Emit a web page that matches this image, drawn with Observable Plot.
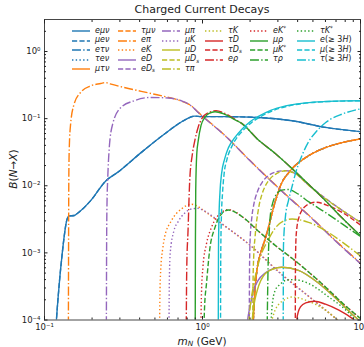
<!DOCTYPE html>
<html><head><meta charset="utf-8">
<script src="https://cdn.jsdelivr.net/npm/d3@7"></script>
<script src="https://cdn.jsdelivr.net/npm/@observablehq/plot@0.6"></script>
<style>
body{margin:0;background:#fff;}
#wrap{position:relative;width:364px;height:347px;font-family:"DejaVu Sans",sans-serif;overflow:hidden;color:#222;}
#wrap svg{position:absolute;left:0;top:0;}
.abs{position:absolute;white-space:nowrap;line-height:1;}
.leg{position:absolute;white-space:nowrap;font-size:8px;line-height:8px;height:8px;}
.leg i{font-style:italic;}
.leg sub,.leg sup{font-size:0.7em;line-height:0;position:relative;vertical-align:baseline;}
.leg sub{top:0.3em;} .leg sup{top:-0.45em;}
</style></head><body><div id="wrap"></div>
<script>
// ---- data: [m_N (GeV), branching ratio] ----
const eMuNu = [[0.117,5e-5],[0.119,1e-4],[0.122,2.2e-4],[0.125,4.3e-4],[0.129,9e-4],[0.133,1.7e-3],[0.138,3.0e-3],[0.143,3.55e-3],[0.154,3.6e-3],[0.162,3.9e-3],[0.196,6.0e-3],[0.245,0.0119],[0.29,0.0158],[0.41,0.0314],[0.575,0.059],[0.77,0.095],[0.89,0.109],[0.99,0.107],[1.39,0.107],[2.26,0.104],[3.69,0.093],[6.0,0.074],[10,0.064]];
const muENu = [[0.117,5e-5],[0.119,1e-4],[0.122,2.2e-4],[0.125,4.3e-4],[0.129,9e-4],[0.133,1.7e-3],[0.138,3.0e-3],[0.143,3.55e-3],[0.154,3.6e-3],[0.162,3.9e-3],[0.196,6.0e-3],[0.245,0.0119],[0.29,0.0158],[0.41,0.0314],[0.575,0.059],[0.77,0.095],[0.89,0.109],[0.99,0.107],[1.39,0.107],[2.26,0.104],[3.69,0.093],[6.0,0.074],[10,0.064]];
const eTauNu = [[2.08,5e-5],[2.1,1e-4],[2.2,5e-4],[2.35,1.05e-3],[2.49,1.6e-3],[2.6,2.3e-3],[2.88,5.7e-3],[3.17,0.011],[3.5,0.0155],[3.69,0.018],[4.69,0.028],[6.0,0.037],[7.66,0.044],[10,0.05]];
const tauENu = [[2.08,5e-5],[2.1,1e-4],[2.2,5e-4],[2.35,1.05e-3],[2.49,1.6e-3],[2.6,2.3e-3],[2.88,5.7e-3],[3.17,0.011],[3.5,0.0155],[3.69,0.018],[4.69,0.028],[6.0,0.037],[7.66,0.044],[10,0.05]];
const muTauNu = [[2.08,5e-5],[2.1,1e-4],[2.2,5e-4],[2.35,1.05e-3],[2.49,1.6e-3],[2.6,2.3e-3],[2.88,5.7e-3],[3.17,0.011],[3.5,0.0155],[3.69,0.018],[4.69,0.028],[6.0,0.037],[7.66,0.044],[10,0.05]];
const tauMuNu = [[2.08,5e-5],[2.1,1e-4],[2.2,5e-4],[2.35,1.05e-3],[2.49,1.6e-3],[2.6,2.3e-3],[2.88,5.7e-3],[3.17,0.011],[3.5,0.0155],[3.69,0.018],[4.69,0.028],[6.0,0.037],[7.66,0.044],[10,0.05]];
const ePi = [[0.1416,5e-5],[0.142,1e-3],[0.1425,0.012],[0.1435,0.037],[0.1463,0.083],[0.154,0.165],[0.169,0.245],[0.196,0.308],[0.227,0.334],[0.243,0.345],[0.26,0.33],[0.32,0.291],[0.473,0.237],[0.62,0.205],[0.734,0.183],[0.85,0.155],[0.94,0.124],[1.0,0.109],[1.39,0.056],[2.0,0.0237],[3.0,9.5e-3],[5.0,3.2e-3],[7.0,1.5e-3],[10,7e-4]];
const eK = [[0.534,5e-5],[0.538,2.5e-4],[0.545,6e-4],[0.56,1.15e-3],[0.575,1.7e-3],[0.635,3.0e-3],[0.734,4.5e-3],[0.85,5.3e-3],[0.95,4.8e-3],[1.0,4.4e-3],[1.39,2.5e-3],[2.0,1.3e-3],[3.0,5.4e-4],[5.0,2.0e-4],[7.0,1.05e-4],[8.5,7e-5]];
const eD = [[1.875,5e-5],[1.93,1e-4],[2.0,1.6e-4],[2.1,2.7e-4],[2.25,3.9e-4],[2.49,5.0e-4],[2.8,5.8e-4],[3.17,6.1e-4],[4.05,5.5e-4],[5.46,3.5e-4],[7.3,1.9e-4],[9.3,1.1e-4],[10,9.5e-5]];
const eDs = [[1.975,5e-5],[1.985,6e-4],[2.0,1.5e-3],[2.05,3.3e-3],[2.12,5.5e-3],[2.22,8e-3],[2.4,0.0115],[2.65,0.0145],[2.95,0.0162],[3.36,0.0168],[3.87,0.0152],[4.69,0.0103],[6.0,6.5e-3],[7.66,4.3e-3],[10,2.85e-3]];
const muPi = [[0.2462,5e-5],[0.2475,2e-3],[0.249,0.0065],[0.251,0.0119],[0.257,0.037],[0.27,0.083],[0.305,0.147],[0.37,0.185],[0.473,0.207],[0.605,0.203],[0.734,0.185],[0.85,0.155],[0.94,0.123],[1.0,0.108],[1.39,0.0555],[2.0,0.0235],[3.0,9.4e-3],[5.0,3.15e-3],[7.0,1.48e-3],[10,6.9e-4]];
const muK = [[0.613,5e-5],[0.617,4e-4],[0.625,1.0e-3],[0.66,2.15e-3],[0.7,2.9e-3],[0.77,3.9e-3],[0.85,4.5e-3],[0.94,4.6e-3],[1.0,4.35e-3],[1.39,2.5e-3],[2.0,1.3e-3],[3.0,5.3e-4],[5.0,2.0e-4],[7.0,1.04e-4],[8.5,7e-5]];
const muD = [[1.98,5e-5],[2.06,1e-4],[2.12,1.7e-4],[2.22,2.75e-4],[2.49,4.9e-4],[2.8,5.75e-4],[3.17,6.1e-4],[4.05,5.5e-4],[5.46,3.5e-4],[7.3,1.9e-4],[9.3,1.1e-4],[10,9.5e-5]];
const muDs = [[2.075,5e-5],[2.09,4e-4],[2.11,9e-4],[2.15,1.7e-3],[2.26,4.5e-3],[2.38,7.5e-3],[2.49,0.0098],[2.7,0.013],[2.89,0.0148],[3.36,0.0167],[3.87,0.0151],[4.69,0.0102],[6.0,6.4e-3],[7.66,4.3e-3],[10,2.85e-3]];
const tauPi = [[1.93,5e-5],[2.0,1.5e-4],[2.1,3.2e-4],[2.3,8e-4],[2.62,1.6e-3],[2.89,2.35e-3],[3.27,3.0e-3],[3.7,3.2e-3],[4.69,2.85e-3],[6.3,2.0e-3],[7.66,1.45e-3],[10,9e-4]];
const tauK = [[2.55,5e-5],[2.75,1e-4],[2.88,1.4e-4],[3.03,1.7e-4],[3.3,2.0e-4],[3.69,2.2e-4],[4.69,1.9e-4],[6.0,1.4e-4],[7.0,1.05e-4],[8,8e-5]];
const tauD = [[3.89,5e-5],[3.95,1e-4],[4.05,1.35e-4],[4.18,1.58e-4],[4.5,1.8e-4],[5.1,1.9e-4],[6.0,1.72e-4],[7.3,1.4e-4],[8.9,1.05e-4],[10,8.5e-5]];
const tauDs = [[3.865,5e-5],[3.875,6e-4],[3.9,1.5e-3],[3.96,2.4e-3],[4.05,3.2e-3],[4.5,5.0e-3],[5.2,5.7e-3],[6.3,5.0e-3],[7.66,4.0e-3],[10,2.6e-3]];
const eRho = [[0.788,5e-5],[0.795,6e-4],[0.81,2.15e-3],[0.83,0.012],[0.86,0.028],[0.894,0.047],[0.94,0.075],[0.99,0.1],[1.1,0.124],[1.22,0.131],[1.35,0.123],[1.61,0.097],[1.77,0.085],[2.26,0.048],[2.9,0.03],[3.69,0.018],[4.69,0.0105],[6.0,6.0e-3],[7.66,3.3e-3],[10,1.8e-3]];
const eKstar = [[0.975,5e-5],[0.985,2.5e-4],[1.006,6.1e-4],[1.06,1.37e-3],[1.14,2.4e-3],[1.32,4.0e-3],[1.46,4.4e-3],[1.8,3.4e-3],[2.26,2.1e-3],[2.55,1.65e-3],[3.0,1.2e-3],[3.69,8.3e-4],[4.69,5.2e-4],[6.0,3.1e-4],[7.66,1.8e-4],[10,1.05e-4]];
const muRho = [[0.899,5e-5],[0.902,1.5e-3],[0.906,8.6e-3],[0.92,0.03],[0.94,0.047],[0.98,0.08],[1.034,0.104],[1.1,0.12],[1.2,0.127],[1.35,0.119],[1.61,0.096],[1.77,0.085],[2.26,0.048],[2.9,0.03],[3.69,0.018],[4.69,0.0105],[6.0,6.0e-3],[7.66,3.3e-3],[10,1.8e-3]];
const muKstar = [[1.015,5e-5],[1.03,1.5e-4],[1.06,3.5e-4],[1.11,1.1e-3],[1.2,2.4e-3],[1.32,3.8e-3],[1.46,4.35e-3],[1.8,3.4e-3],[2.26,2.1e-3],[2.55,1.65e-3],[3.0,1.2e-3],[3.69,8.3e-4],[4.69,5.2e-4],[6.0,3.1e-4],[7.66,1.8e-4],[10,1.05e-4]];
const tauRho = [[2.56,5e-5],[2.6,6e-4],[2.63,1.5e-3],[2.68,3.4e-3],[2.78,5.5e-3],[2.9,7.1e-3],[3.17,8.6e-3],[3.5,8.8e-3],[4.0,7.6e-3],[4.69,5.8e-3],[6.0,4.0e-3],[7.66,2.7e-3],[10,1.75e-3]];
const tauKstar = [[2.68,5e-5],[2.75,1.5e-4],[2.88,2.75e-4],[3.1,3.4e-4],[3.36,3.9e-4],[3.79,4.0e-4],[4.69,3.5e-4],[6.3,2.2e-4],[8.1,1.4e-4],[9.3,1.0e-4],[10,8.5e-5]];
const e3H = [[1.258,5e-5],[1.262,1e-3],[1.27,3e-3],[1.29,8e-3],[1.32,0.015],[1.38,0.025],[1.46,0.037],[1.6,0.052],[1.77,0.069],[2.0,0.09],[2.26,0.108],[2.7,0.133],[3.36,0.155],[4.5,0.172],[6.0,0.18],[8,0.184],[10,0.185]];
const mu3H = [[1.3,5e-5],[1.305,1e-3],[1.315,3e-3],[1.34,8e-3],[1.37,0.015],[1.43,0.025],[1.52,0.037],[1.65,0.052],[1.82,0.068],[2.05,0.088],[2.3,0.105],[2.75,0.13],[3.4,0.152],[4.5,0.17],[6.0,0.179],[8,0.183],[10,0.185]];
const tau3H = [[3.24,5e-5],[3.255,1.3e-3],[3.35,3.5e-3],[3.5,6e-3],[3.7,0.01],[3.9,0.016],[4.2,0.026],[4.69,0.045],[5.3,0.066],[6.0,0.087],[7.66,0.117],[10,0.14]];

const seriesData = [eMuNu, muENu, eTauNu, tauENu, muTauNu, tauMuNu, ePi, eK, eD, eDs, muPi, muK, muD, muDs, tauPi, tauK, tauD, tauDs, eRho, eKstar, muRho, muKstar, tauRho, tauKstar, e3H, mu3H, tau3H];
const seriesLabels = [
 "<i>eμν</i>","<i>μeν</i>","<i>eτν</i>","<i>τeν</i>","<i>μτν</i>",
 "<i>τμν</i>","<i>eπ</i>","<i>eK</i>","<i>eD</i>","<i>eD</i><sub><i>s</i></sub>",
 "<i>μπ</i>","<i>μK</i>","<i>μD</i>","<i>μD</i><sub><i>s</i></sub>","<i>τπ</i>",
 "<i>τK</i>","<i>τD</i>","<i>τD</i><sub><i>s</i></sub>","<i>eρ</i>",
 "<i>eK</i><sup>*</sup>","<i>μρ</i>","<i>μK</i><sup>*</sup>","<i>τρ</i>",
 "<i>τK</i><sup>*</sup>","<i>e</i>(≥ 3<i>H</i>)","<i>μ</i>(≥ 3<i>H</i>)","<i>τ</i>(≥ 3<i>H</i>)"
];
const seriesColors = ["#1f77b4","#1f77b4","#1f77b4","#1f77b4","#ff7f0e","#ff7f0e","#ff7f0e","#ff7f0e","#9467bd","#9467bd","#9467bd","#9467bd","#bcbd22","#bcbd22","#bcbd22","#bcbd22","#d62728","#d62728","#d62728","#d62728","#2ca02c","#2ca02c","#2ca02c","#2ca02c","#17becf","#17becf","#17becf"];
const styleCycle = ["solid","dashed","dashdot","dotted"];
const xMajor = [0.1, 1, 10];
const xMinor = [0.2,0.3,0.4,0.5,0.6,0.7,0.8,0.9,2,3,4,5,6,7,8,9];
const yMajor = [1e-4, 1e-3, 1e-2, 1e-1, 1];
const yMinor = [2e-4,3e-4,4e-4,5e-4,6e-4,7e-4,8e-4,9e-4,2e-3,3e-3,4e-3,5e-3,6e-3,7e-3,8e-3,9e-3,2e-2,3e-2,4e-2,5e-2,6e-2,7e-2,8e-2,9e-2,0.2,0.3,0.4,0.5,0.6,0.7,0.8,0.9,2];

// ---- styling ----
const LW = 1.4;
const dashOf = s => ({solid: null, dashed: `${3.7*LW},${1.6*LW}`, dashdot: `${6.4*LW},${1.6*LW},${1*LW},${1.6*LW}`, dotted: `${1*LW},${1.65*LW}`})[s];
const supMap = {"-":"⁻","0":"⁰","1":"¹","2":"²","3":"³","4":"⁴"};
const pow10 = d => "10" + String(Math.round(Math.log10(d))).split("").map(c => supMap[c]).join("");
const blank = () => "";

const lineMarks = seriesData.map((arr, i) => Plot.line(arr, {
  x: d => d[0], y: d => d[1], stroke: seriesColors[i], strokeWidth: LW,
  strokeDasharray: dashOf(styleCycle[i % 4]), strokeLinecap: "butt", curve: "monotone-x", clip: true
}));

const axisCommon = {label: null, stroke: "#222"};
const chart = Plot.plot({
  width: 364, height: 347,
  marginLeft: 44, marginRight: 4, marginTop: 19, marginBottom: 27.5,
  style: {fontFamily: "DejaVu Sans", fontSize: "8.5px", color: "#222", background: "transparent", overflow: "visible"},
  x: {type: "log", domain: [0.1, 10]},
  y: {type: "log", domain: [1e-4, 3]},
  marks: [
    ...lineMarks,
    Plot.frame({stroke: "#333", strokeWidth: 0.9}),
    Plot.axisX({...axisCommon, anchor: "bottom", ticks: xMajor, tickSize: -3.5, tickPadding: 7, tickFormat: pow10}),
    Plot.axisX({...axisCommon, anchor: "bottom", ticks: xMinor, tickSize: -2, tickFormat: blank}),
    Plot.axisX({...axisCommon, anchor: "top", ticks: xMajor, tickSize: -3.5, tickFormat: blank}),
    Plot.axisX({...axisCommon, anchor: "top", ticks: xMinor, tickSize: -2, tickFormat: blank}),
    Plot.axisY({...axisCommon, anchor: "left", ticks: yMajor, tickSize: -3.5, tickPadding: 7.5, tickFormat: pow10}),
    Plot.axisY({...axisCommon, anchor: "left", ticks: yMinor, tickSize: -2, tickFormat: blank}),
    Plot.axisY({...axisCommon, anchor: "right", ticks: yMajor, tickSize: -3.5, tickFormat: blank}),
    Plot.axisY({...axisCommon, anchor: "right", ticks: yMinor, tickSize: -2, tickFormat: blank})
  ]
});

const wrap = document.getElementById("wrap");
wrap.appendChild(chart);

// ---- title and axis labels ----
function addText(html, css) {
  const d = document.createElement("div");
  d.className = "abs"; d.innerHTML = html; Object.assign(d.style, css); wrap.appendChild(d);
  return d;
}
addText("Charged Current Decays", {left: "44px", width: "316px", textAlign: "center", top: "4px", fontSize: "11px"});
addText('<i>m</i><sub style="font-size:0.7em;line-height:0;position:relative;top:0.2em;vertical-align:baseline"><i>N</i></sub> (GeV)', {left: "44px", width: "316px", textAlign: "center", top: "335.5px", fontSize: "10.5px"});
addText("<i>B</i>(<i>N</i>→<i>X</i>)", {left: "13px", top: "169px", fontSize: "10.5px", transform: "translate(-50%,-50%) rotate(-90deg)"});

// ---- legend ----
const colStarts = [72, 118, 162, 205, 250, 297];
const colSizes = [5, 5, 5, 4, 4, 4];
const rowY = [31, 40.5, 50, 59.5, 69];
let idx = 0;
colSizes.forEach((n, c) => {
  for (let r = 0; r < n; r++, idx++) {
    const i = idx;
    const y = rowY[r];
    const svg = d3.create("svg").attr("width", 20).attr("height", 6)
      .style("position", "absolute").style("left", colStarts[c] + "px").style("top", (y - 3) + "px");
    svg.append("line").attr("x1", 0).attr("x2", 18).attr("y1", 3).attr("y2", 3)
      .attr("stroke", seriesColors[i]).attr("stroke-width", LW)
      .attr("stroke-dasharray", dashOf(styleCycle[i % 4])).attr("stroke-linecap", "butt");
    wrap.appendChild(svg.node());
    const t = document.createElement("div");
    t.className = "leg"; t.innerHTML = seriesLabels[i];
    t.style.left = (colStarts[c] + 23) + "px"; t.style.top = (y - 4.5) + "px";
    wrap.appendChild(t);
  }
});
</script></body></html>
